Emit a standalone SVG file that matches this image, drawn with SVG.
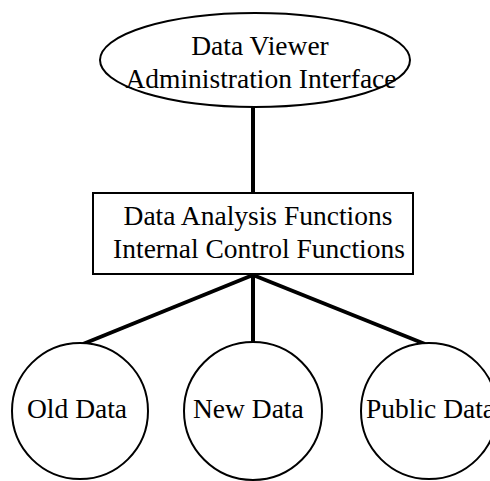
<svg xmlns="http://www.w3.org/2000/svg" width="490" height="481" viewBox="0 0 490 481">
<style>
.shape{fill:#fff;stroke:#000;stroke-width:2}
.lbl{font-family:"Liberation Serif","Times New Roman",serif;font-size:27.5px;fill:#000}
.mid{text-anchor:middle}
.conn{stroke:#000;stroke-width:4;fill:none}
</style>
<rect width="490" height="481" fill="#fff"/>
<g id="connectors">
<line class="conn" x1="253" y1="106" x2="253" y2="193"/>
<line class="conn" x1="253" y1="275" x2="83" y2="344"/>
<line class="conn" x1="253" y1="275" x2="253" y2="344"/>
<line class="conn" x1="253" y1="275" x2="425" y2="344"/>
</g>
<g id="admin">
<ellipse class="shape" cx="255" cy="60" rx="155" ry="47"/>
<text class="lbl mid" x="260" y="55">Data Viewer</text>
<text class="lbl mid" x="261" y="88">Administration Interface</text>
</g>
<g id="functions">
<rect class="shape" x="93" y="193" width="320" height="81" stroke-width="2.5"/>
<text class="lbl mid" x="258" y="225">Data Analysis Functions</text>
<text class="lbl mid" x="259" y="258">Internal Control Functions</text>
</g>
<g id="old">
<circle class="shape" cx="80" cy="411" r="68"/>
<text class="lbl" x="27" y="418">Old Data</text>
</g>
<g id="new">
<circle class="shape" cx="253" cy="411" r="69"/>
<text class="lbl" x="193" y="418">New Data</text>
</g>
<g id="public">
<circle class="shape" cx="429" cy="411" r="68"/>
<text class="lbl" x="366" y="418">Public Data</text>
</g>
</svg>
